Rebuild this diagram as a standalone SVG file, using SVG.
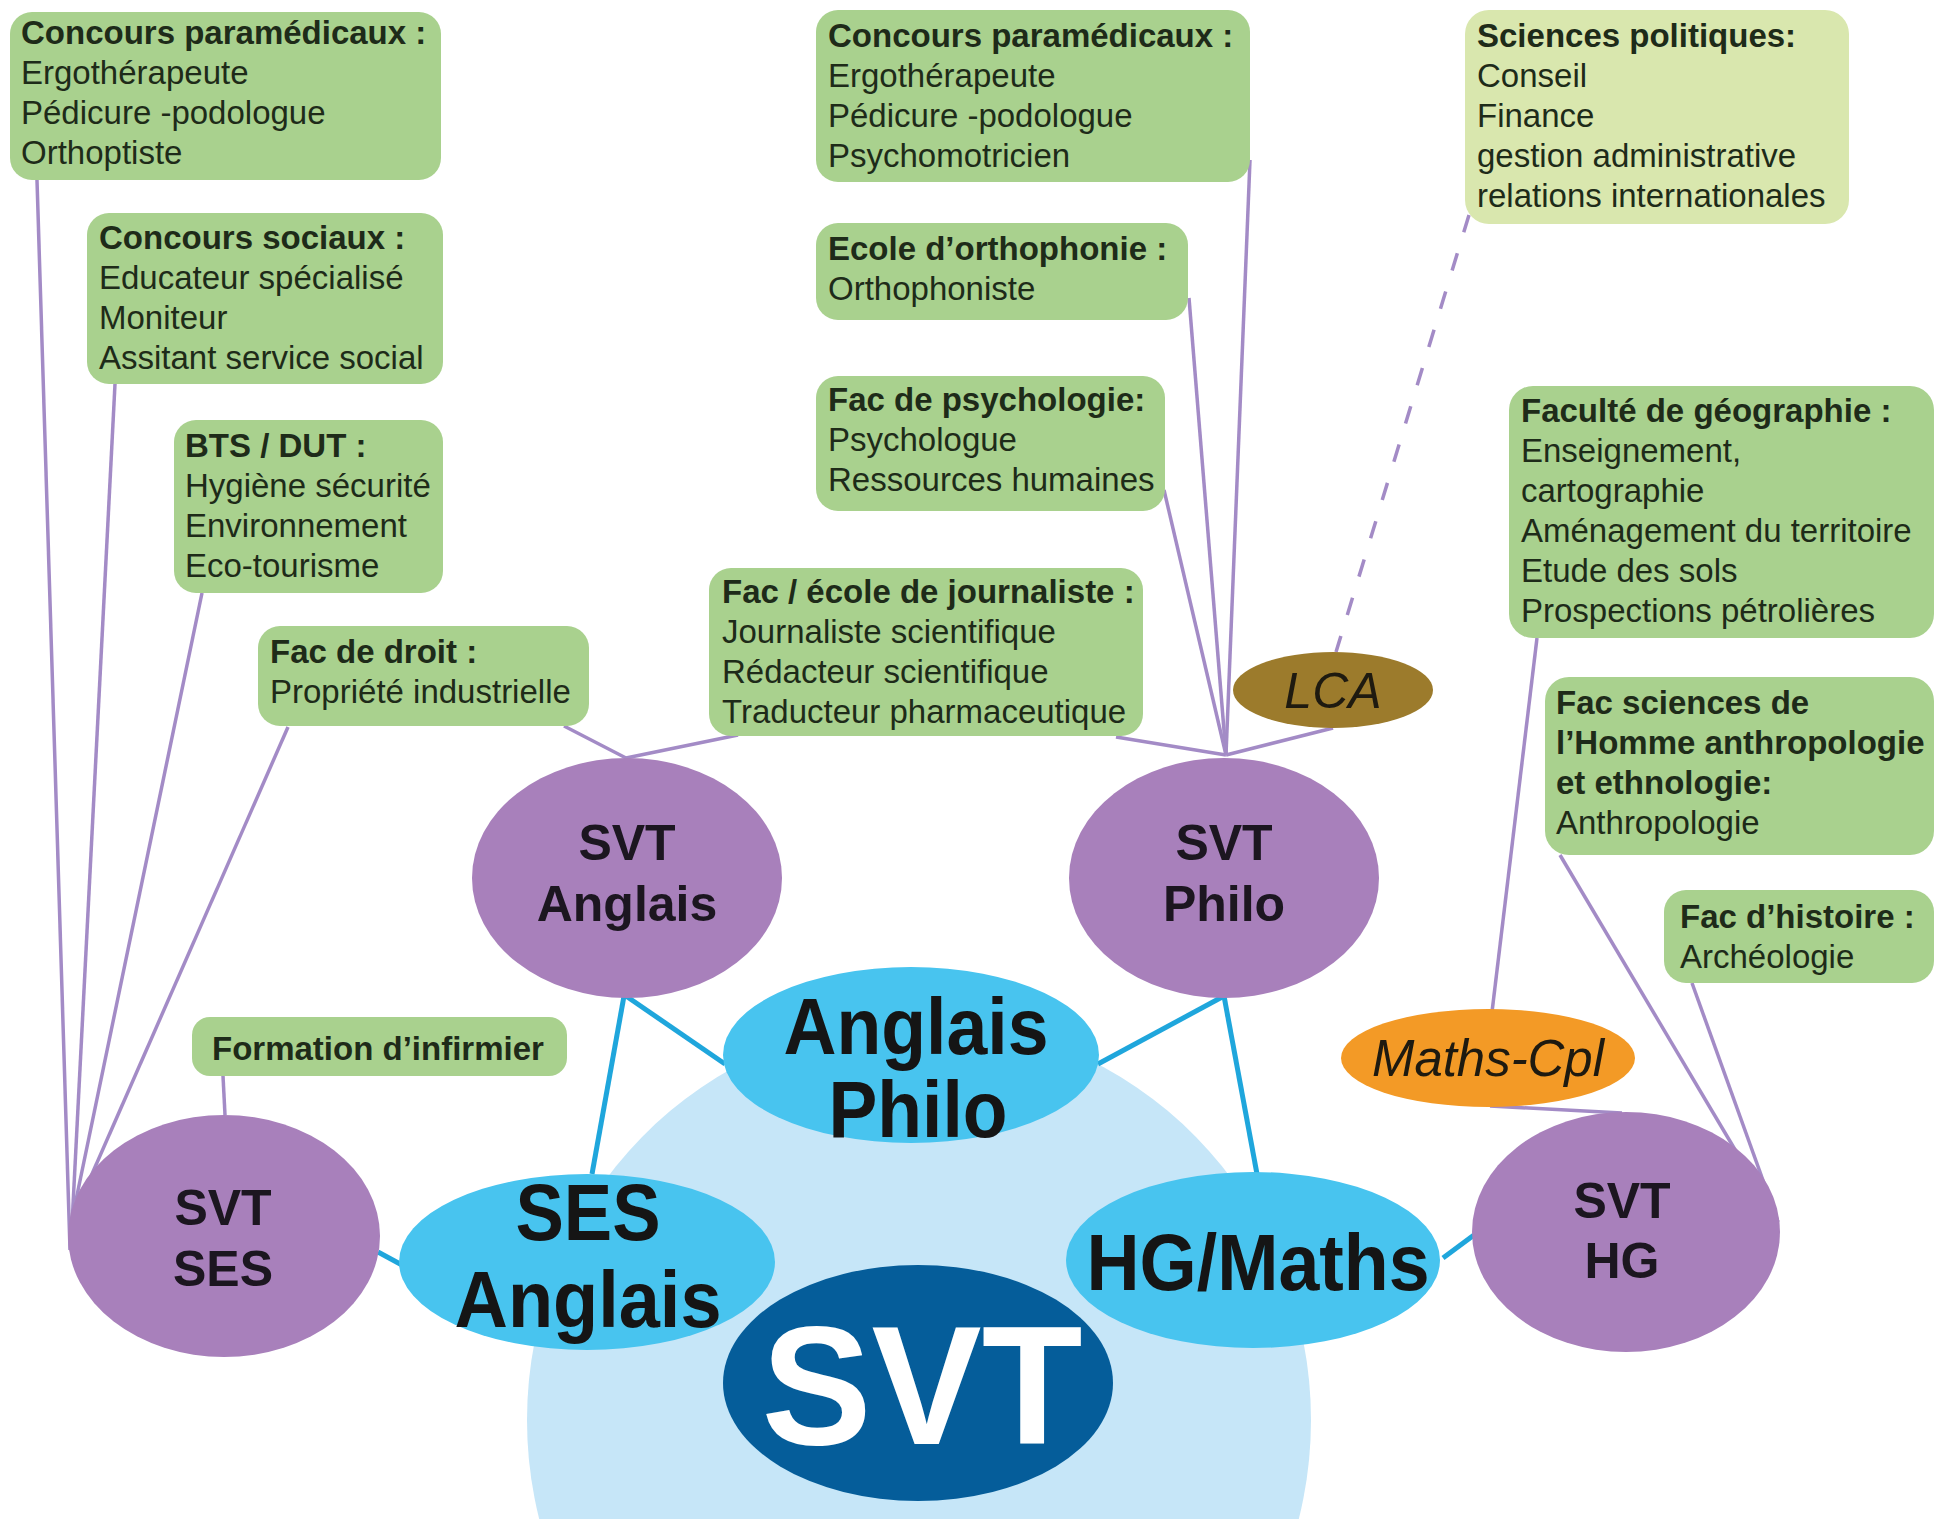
<svg xmlns="http://www.w3.org/2000/svg" width="1944" height="1519" viewBox="0 0 1944 1519">
<style>
.box{fill:#a9d18e}
.boxlt{fill:#d9e7ae}
.t{font-family:"Liberation Sans",Arial,sans-serif;font-size:33px;fill:#1e2b19}
.b{font-weight:bold}
.pl{fill:#a880bb}
.bl{fill:#48c4ef}
.pt{font-family:"Liberation Sans",Arial,sans-serif;font-size:50px;font-weight:bold;fill:#1c1620;text-anchor:middle}
.bt{font-family:"Liberation Sans",Arial,sans-serif;font-size:80px;font-weight:bold;fill:#151515;text-anchor:middle}
.ln{stroke:#a38bc6;stroke-width:3.5;fill:none}
.bln{stroke:#1fa6dc;stroke-width:5;fill:none}
</style>
<rect width="1944" height="1519" fill="#ffffff"/>
<ellipse id="bg" cx="919" cy="1420" rx="392" ry="400" fill="#c6e6f8"/>
<g id="connectors">
<line class="ln" x1="37" y1="180" x2="70" y2="1250"/>
<line class="ln" x1="115" y1="384" x2="72" y2="1225"/>
<line class="ln" x1="202" y1="593" x2="76" y2="1200"/>
<line class="ln" x1="288" y1="727" x2="85" y2="1190"/>
<line class="ln" x1="223" y1="1076" x2="225" y2="1115"/>
<line class="ln" x1="564" y1="726" x2="626" y2="758"/>
<line class="ln" x1="738" y1="735" x2="626" y2="758"/>
<line class="ln" x1="1116" y1="737" x2="1226" y2="755"/>
<line class="ln" x1="1250" y1="160" x2="1226" y2="755"/>
<line class="ln" x1="1189" y1="298" x2="1226" y2="755"/>
<line class="ln" x1="1164" y1="490" x2="1226" y2="755"/>
<line class="ln" x1="1333" y1="728" x2="1226" y2="755"/>
<line class="ln" x1="1469" y1="215" x2="1336" y2="652" stroke-dasharray="18 22"/>
<line class="ln" x1="1537" y1="638" x2="1492" y2="1012"/>
<line class="ln" x1="1490" y1="1106" x2="1622" y2="1113"/>
<line class="ln" x1="1560" y1="855" x2="1778" y2="1222"/>
<line class="ln" x1="1692" y1="983" x2="1778" y2="1222"/>
<line class="bln" x1="626" y1="996" x2="725" y2="1064"/>
<line class="bln" x1="624" y1="996" x2="592" y2="1174"/>
<line class="bln" x1="1224" y1="996" x2="1098" y2="1064"/>
<line class="bln" x1="1224" y1="996" x2="1257" y2="1174"/>
<line class="bln" x1="378" y1="1252" x2="402" y2="1265"/>
<line class="bln" x1="1443" y1="1258" x2="1474" y2="1235"/>
</g>
<g id="box-paramed-left">
<rect class="box" x="10" y="12" width="431" height="168" rx="22"/>
<text class="t b" x="21" y="44">Concours paramédicaux :</text>
<text class="t" x="21" y="84">Ergothérapeute</text>
<text class="t" x="21" y="124">Pédicure -podologue</text>
<text class="t" x="21" y="164">Orthoptiste</text>
</g>
<g id="box-sociaux">
<rect class="box" x="87" y="213" width="356" height="171" rx="22"/>
<text class="t b" x="99" y="249">Concours sociaux :</text>
<text class="t" x="99" y="289">Educateur spécialisé</text>
<text class="t" x="99" y="329">Moniteur</text>
<text class="t" x="99" y="369">Assitant service social</text>
</g>
<g id="box-bts">
<rect class="box" x="174" y="420" width="269" height="173" rx="22"/>
<text class="t b" x="185" y="457">BTS / DUT :</text>
<text class="t" x="185" y="497">Hygiène sécurité</text>
<text class="t" x="185" y="537">Environnement</text>
<text class="t" x="185" y="577">Eco-tourisme</text>
</g>
<g id="box-droit">
<rect class="box" x="258" y="626" width="331" height="100" rx="22"/>
<text class="t b" x="270" y="663">Fac de droit :</text>
<text class="t" x="270" y="703">Propriété industrielle</text>
</g>
<g id="box-infirmier">
<rect class="box" x="192" y="1017" width="375" height="59" rx="18"/>
<text class="t b" x="212" y="1060">Formation d’infirmier</text>
</g>
<g id="box-paramed-mid">
<rect class="box" x="816" y="10" width="434" height="172" rx="22"/>
<text class="t b" x="828" y="47">Concours paramédicaux :</text>
<text class="t" x="828" y="87">Ergothérapeute</text>
<text class="t" x="828" y="127">Pédicure -podologue</text>
<text class="t" x="828" y="167">Psychomotricien</text>
</g>
<g id="box-orthophonie">
<rect class="box" x="816" y="223" width="372" height="97" rx="22"/>
<text class="t b" x="828" y="260">Ecole d’orthophonie :</text>
<text class="t" x="828" y="300">Orthophoniste</text>
</g>
<g id="box-psycho">
<rect class="box" x="816" y="376" width="349" height="135" rx="22"/>
<text class="t b" x="828" y="411">Fac de psychologie:</text>
<text class="t" x="828" y="451">Psychologue</text>
<text class="t" x="828" y="491">Ressources humaines</text>
</g>
<g id="box-journaliste">
<rect class="box" x="709" y="568" width="434" height="168" rx="22"/>
<text class="t b" x="722" y="603">Fac / école de journaliste :</text>
<text class="t" x="722" y="643">Journaliste scientifique</text>
<text class="t" x="722" y="683">Rédacteur scientifique</text>
<text class="t" x="722" y="723">Traducteur pharmaceutique</text>
</g>
<g id="box-scpo">
<rect class="boxlt" x="1465" y="10" width="384" height="214" rx="24"/>
<text class="t b" x="1477" y="47">Sciences politiques:</text>
<text class="t" x="1477" y="87">Conseil</text>
<text class="t" x="1477" y="127">Finance</text>
<text class="t" x="1477" y="167">gestion administrative</text>
<text class="t" x="1477" y="207">relations internationales</text>
</g>
<g id="box-geo">
<rect class="box" x="1509" y="386" width="425" height="252" rx="24"/>
<text class="t b" x="1521" y="422">Faculté de géographie :</text>
<text class="t" x="1521" y="462">Enseignement,</text>
<text class="t" x="1521" y="502">cartographie</text>
<text class="t" x="1521" y="542">Aménagement du territoire</text>
<text class="t" x="1521" y="582">Etude des sols</text>
<text class="t" x="1521" y="622">Prospections pétrolières</text>
</g>
<g id="box-anthropo">
<rect class="box" x="1545" y="677" width="389" height="178" rx="24"/>
<text class="t b" x="1556" y="714">Fac sciences de</text>
<text class="t b" x="1556" y="754">l’Homme anthropologie</text>
<text class="t b" x="1556" y="794">et ethnologie:</text>
<text class="t" x="1556" y="834">Anthropologie</text>
</g>
<g id="box-histoire">
<rect class="box" x="1664" y="890" width="270" height="93" rx="22"/>
<text class="t b" x="1680" y="928">Fac d’histoire :</text>
<text class="t" x="1680" y="968">Archéologie</text>
</g>
<g id="node-lca">
<ellipse cx="1333" cy="690" rx="100" ry="38" fill="#9c7b2c"/>
<text x="1333" y="708" font-family="Liberation Sans, Arial, sans-serif" font-size="50" font-style="italic" fill="#1e1a10" text-anchor="middle">LCA</text>
</g>
<g id="node-mathscpl">
<ellipse cx="1488" cy="1058" rx="147" ry="49" fill="#f39a26"/>
<text x="1488" y="1076" font-family="Liberation Sans, Arial, sans-serif" font-size="52" font-style="italic" fill="#1e1a10" text-anchor="middle" textLength="232" lengthAdjust="spacingAndGlyphs">Maths-Cpl</text>
</g>
<g id="node-svt-anglais">
<ellipse class="pl" cx="627" cy="878" rx="155" ry="120"/>
<text class="pt" x="627" y="860">SVT</text>
<text class="pt" x="627" y="921">Anglais</text>
</g>
<g id="node-svt-philo">
<ellipse class="pl" cx="1224" cy="878" rx="155" ry="120"/>
<text class="pt" x="1224" y="860">SVT</text>
<text class="pt" x="1224" y="921">Philo</text>
</g>
<g id="node-svt-ses">
<ellipse class="pl" cx="224" cy="1236" rx="156" ry="121"/>
<text class="pt" x="223" y="1225">SVT</text>
<text class="pt" x="223" y="1286">SES</text>
</g>
<g id="node-svt-hg">
<ellipse class="pl" cx="1626" cy="1232" rx="154" ry="120"/>
<text class="pt" x="1622" y="1218">SVT</text>
<text class="pt" x="1622" y="1278">HG</text>
</g>
<g id="node-svt">
<ellipse cx="918" cy="1383" rx="195" ry="118" fill="#055d9a"/>
<text x="922" y="1444" font-family="Liberation Sans, Arial, sans-serif" font-size="168" font-weight="bold" fill="#ffffff" text-anchor="middle" textLength="321" lengthAdjust="spacingAndGlyphs">SVT</text>
</g>
<g id="node-anglais-philo">
<ellipse class="bl" cx="911" cy="1055" rx="188" ry="88"/>
<text class="bt" x="916" y="1054" textLength="265" lengthAdjust="spacingAndGlyphs">Anglais</text>
<text class="bt" x="918" y="1137" textLength="179" lengthAdjust="spacingAndGlyphs">Philo</text>
</g>
<g id="node-ses-anglais">
<ellipse class="bl" cx="587" cy="1262" rx="188" ry="88"/>
<text class="bt" x="588" y="1240" textLength="145" lengthAdjust="spacingAndGlyphs">SES</text>
<text class="bt" x="588" y="1327" textLength="267" lengthAdjust="spacingAndGlyphs">Anglais</text>
</g>
<g id="node-hg-maths">
<ellipse class="bl" cx="1253" cy="1260" rx="187" ry="88"/>
<text class="bt" x="1258" y="1290" textLength="343" lengthAdjust="spacingAndGlyphs">HG/Maths</text>
</g>
</svg>
